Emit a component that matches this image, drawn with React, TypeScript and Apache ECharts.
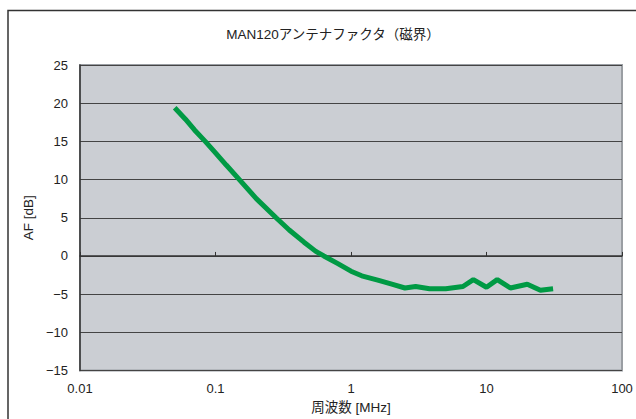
import React, { useEffect, useRef } from "react";
import * as echarts from "echarts";

const freqMHz = [0.05, 0.06, 0.07, 0.084, 0.1, 0.12, 0.15, 0.2, 0.28, 0.35, 0.45, 0.55, 0.63, 0.8, 1.0, 1.2, 1.6, 2.0, 2.5, 3.0, 3.8, 5.0, 6.7, 8.0, 10, 12, 15, 20, 25, 31];
const afDb = [19.4, 17.9, 16.5, 15.0, 13.5, 11.9, 10.0, 7.5, 5.0, 3.4, 1.8, 0.6, 0.0, -1.0, -2.0, -2.6, -3.2, -3.7, -4.2, -4.0, -4.3, -4.3, -4.0, -3.1, -4.1, -3.1, -4.2, -3.7, -4.5, -4.3];

const title = "MAN120アンテナファクタ（磁界）";
const xName = "周波数 [MHz]";
const yName = "AF [dB]";

const FONT = "'Liberation Sans', 'Noto Sans CJK JP', sans-serif";

export default function App() {
  const ref = useRef<HTMLDivElement>(null);
  useEffect(() => {
    if (!ref.current) return;
    const chart = echarts.init(ref.current, undefined, { renderer: "svg" });
    chart.setOption({
      animation: false,
      backgroundColor: "#ffffff",
      textStyle: { fontFamily: FONT },
      title: {
        text: title,
        left: 328,
        top: 23,
        textAlign: "center",
        textStyle: { fontSize: 13.5, fontWeight: "normal", color: "#222", fontFamily: FONT },
      },
      graphic: [
        {
          type: "rect",
          shape: { x: 8, y: 10.5, width: 700, height: 500 },
          style: { fill: "none", stroke: "#333", lineWidth: 1.5 },
          silent: true,
        },
      ],
      grid: {
        left: 80,
        right: 14,
        top: 65,
        bottom: 47,
        show: true,
        backgroundColor: "#cbced3",
        borderColor: "#9a9ea3",
        borderWidth: 2,
      },
      xAxis: {
        type: "log",
        logBase: 10,
        min: 0.01,
        max: 100,
        name: xName,
        nameLocation: "middle",
        nameGap: 30,
        nameTextStyle: { fontSize: 13.5, color: "#222", fontFamily: FONT },
        axisLine: { show: true, lineStyle: { color: "#333", width: 1.5 } },
        axisTick: { show: true, inside: true, length: 4, lineStyle: { color: "#333" } },
        minorTick: { show: false },
        splitLine: { show: false },
        axisLabel: {
          fontSize: 13,
          color: "#222",
          margin: 11,
          formatter: (v: number) => String(Number(v.toPrecision(6))),
        },
      },
      yAxis: {
        type: "value",
        min: -15,
        max: 25,
        interval: 5,
        name: yName,
        nameLocation: "middle",
        nameGap: 44,
        nameRotate: 90,
        nameTextStyle: { fontSize: 13.5, color: "#222", fontFamily: FONT },
        axisLine: { show: true, lineStyle: { color: "#333", width: 1.5 } },
        axisTick: { show: false },
        splitLine: { show: true, lineStyle: { color: "#444", width: 1 } },
        axisLabel: {
          fontSize: 13,
          color: "#222",
          margin: 12,
          formatter: (v: number) => String(v).replace("-", "−"),
        },
      },
      series: [
        {
          type: "line",
          data: freqMHz.map((f, i) => [f, afDb[i]]),
          showSymbol: false,
          symbol: "none",
          lineStyle: { color: "#009a44", width: 5 },
          smooth: false,
        },
      ],
    });
    return () => chart.dispose();
  }, []);
  return <div ref={ref} style={{ position: "fixed", left: 0, top: 0, width: 636, height: 419 }} />;
}
